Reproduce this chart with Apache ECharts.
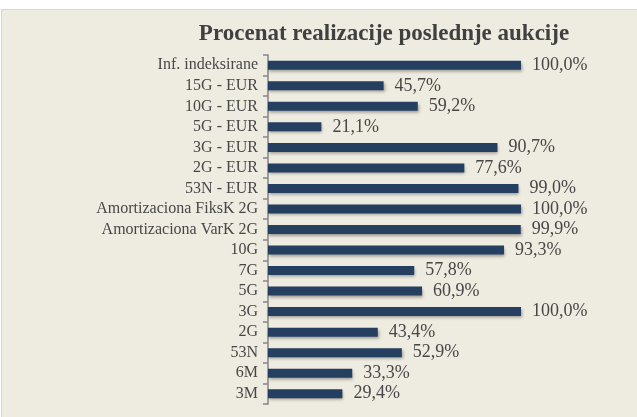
<!DOCTYPE html>
<html>
<head>
<meta charset="utf-8">
<script src="https://cdn.jsdelivr.net/npm/echarts@6/dist/echarts.min.js"></script>
<style>
  html, body { margin: 0; padding: 0; background: #ffffff; }
  #panel {
    position: absolute; left: 1px; top: 9px; width: 640px; height: 412px;
    background: #eeebe0; border: 1px solid #d4d6da; box-sizing: border-box;
  }
  #chart { position: absolute; left: 0; top: 0; width: 637px; height: 417px; }
</style>
</head>
<body>
<div id="panel"></div>
<div id="chart"></div>
<script>
const TITLE = "Procenat realizacije poslednje aukcije";

const categories = [
  "Inf. indeksirane", "15G - EUR", "10G - EUR", "5G - EUR", "3G - EUR", "2G - EUR",
  "53N - EUR", "Amortizaciona FiksK 2G", "Amortizaciona VarK 2G", "10G", "7G", "5G",
  "3G", "2G", "53N", "6M", "3M",
];

const values = [
  100.0, 45.7, 59.2, 21.1, 90.7, 77.6,
  99.0, 100.0, 99.9, 93.3, 57.8, 60.9,
  100.0, 43.4, 52.9, 33.3, 29.4,
];

const COLORS = {
  bar: "#253f61",
  text: "#474747",
  axis: "#868686",
};

const FONT = "'Liberation Serif', 'Times New Roman', serif";

function formatPct(v) {
  return v.toFixed(1).replace(".", ",") + "%";
}

const chart = echarts.init(document.getElementById("chart"));
chart.setOption({
  animation: false,
  title: {
    text: TITLE,
    left: 379,
    textAlign: "center",
    top: 18,
    textStyle: { fontFamily: FONT, fontSize: 23, fontWeight: "bold", color: "#404040" },
  },
  grid: { left: 268, width: 253, top: 55, height: 349 },
  xAxis: { type: "value", min: 0, max: 100, show: false },
  yAxis: {
    type: "category",
    inverse: true,
    data: categories,
    axisLine: { lineStyle: { color: COLORS.axis, width: 1.5 } },
    axisTick: { show: true, length: 5, interval: 0, lineStyle: { color: COLORS.axis, width: 1.5 } },
    axisLabel: {
      interval: 0,
      fontFamily: FONT,
      fontSize: 16,
      fontWeight: "normal",
      color: COLORS.text,
      margin: 10,
    },
  },
  series: [
    {
      type: "bar",
      data: values,
      barWidth: 9,
      itemStyle: {
        color: COLORS.bar,
        shadowColor: "rgba(0,0,0,0.35)",
        shadowBlur: 3,
        shadowOffsetX: 1,
        shadowOffsetY: 2,
      },
      label: {
        show: true,
        position: "right",
        distance: 11,
        formatter: (p) => formatPct(p.value),
        fontFamily: FONT,
        fontSize: 18,
        color: COLORS.text,
      },
    },
  ],
});
</script>
</body>
</html>
